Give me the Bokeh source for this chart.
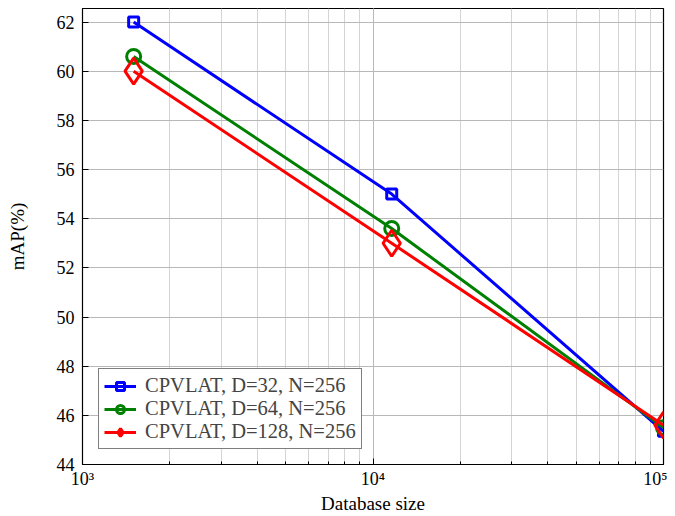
from bokeh.plotting import figure
from bokeh.models import Range1d, FixedTicker, CustomJSTickFormatter, Legend, LegendItem
from bokeh.embed import file_html
from bokeh.resources import INLINE

db_size = [1500, 11600, 100000]
map_d32 = [62.0, 55.0, 45.35]
map_d64 = [60.6, 53.6, 45.5]
map_d128 = [60.0, 53.0, 45.6]
labels = ["CPVLAT, D=32, N=256", "CPVLAT, D=64, N=256", "CPVLAT, D=128, N=256"]
y_ticks = [44, 46, 48, 50, 52, 54, 56, 58, 60, 62]

FONT = "Liberation Serif"

p = figure(width=667, height=516, x_axis_type="log", output_backend="svg",
           toolbar_location=None, x_range=Range1d(1000, 100000), y_range=Range1d(44, 62.55),
           min_border_left=82, min_border_right=4, min_border_top=8, min_border_bottom=10)

p.outline_line_color = "black"
p.outline_line_width = 1.2
p.background_fill_color = "white"

p.xaxis.formatter = CustomJSTickFormatter(code="""
const e = Math.round(Math.log10(tick));
const sup = {"0":"\u2070","1":"\u00b9","2":"\u00b2","3":"\u00b3","4":"\u2074","5":"\u2075","6":"\u2076","7":"\u2077","8":"\u2078","9":"\u2079"};
return "10" + String(e).split("").map(c => sup[c]).join("");
""")
p.yaxis.ticker = FixedTicker(ticks=y_ticks)

for ax in (p.xaxis[0], p.yaxis[0]):
    ax.major_label_text_font = FONT
    ax.major_label_text_font_size = "18px"
    ax.axis_label_text_font = FONT
    ax.axis_label_text_font_size = "19px"
    ax.axis_label_text_font_style = "normal"
    ax.major_tick_in = 6
    ax.major_tick_out = 0
    ax.minor_tick_in = 3
    ax.minor_tick_out = 0
    ax.axis_line_color = "black"
    ax.major_tick_line_color = "black"
    ax.minor_tick_line_color = "black"
    ax.major_label_text_color = "black"
    ax.axis_label_text_color = "black"

p.xaxis.axis_label = "Database size"
p.yaxis.axis_label = "mAP(%)"
p.xaxis.major_label_standoff = 4
p.yaxis.major_label_standoff = 8
p.xaxis.axis_label_standoff = 1
p.yaxis.axis_label_standoff = 26

p.xgrid.grid_line_color = "#b8b8b8"
p.xgrid.minor_grid_line_color = "#d4d4d4"
p.ygrid.grid_line_color = "#b8b8b8"

items = []
specs = [(map_d32, "#0000ff", "square", 10), (map_d64, "#008000", "circle", 14), (map_d128, "#ff0000", "diamond", 26)]
for (vals, color, marker, size), lab in zip(specs, labels):
    r1 = p.line(db_size, vals, line_color=color, line_width=3)
    r2 = p.scatter(db_size, vals, marker=marker, size=size, fill_color=None,
                   line_color=color, line_width=3)
    items.append(LegendItem(label=lab, renderers=[r1, r2]))

legend = Legend(items=items, location=(16, 15))
legend.label_text_font = FONT
legend.label_text_font_size = "20.5px"
legend.border_line_color = "black"
legend.border_line_width = 1
legend.glyph_width = 32
legend.glyph_height = 20
legend.label_height = 20
legend.spacing = 0
legend.padding = 5
legend.margin = 0
legend.label_standoff = 9
legend.background_fill_alpha = 1
p.add_layout(legend, "center")

open("out.html", "w").write(file_html(p, INLINE))
